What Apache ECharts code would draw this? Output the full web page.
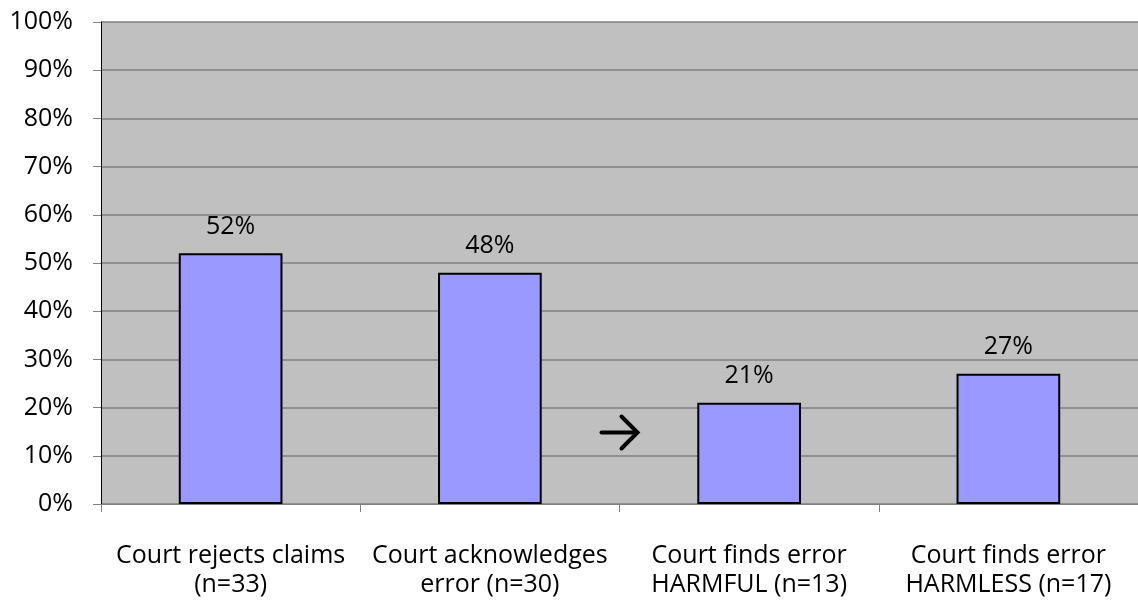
<!DOCTYPE html>
<html lang="en">
<head>
    <meta charset="UTF-8">
    <title>Court outcomes</title>
    <style>
        html, body { margin: 0; padding: 0; background: #fff; }
        #chart { width: 1138px; height: 601px; }
    </style>
</head>
<body>
<div id="chart"></div>
<script src="https://cdn.jsdelivr.net/npm/echarts@6/dist/echarts.min.js"></script>
<script>
    // 数据
    let categories = ['Court rejects claims\n(n=33)', 'Court acknowledges\nerror (n=30)', 'Court finds error\nHARMFUL (n=13)', 'Court finds error\nHARMLESS (n=17)'];
    let values = [52, 48, 21, 27];
    let yTicks = [0, 10, 20, 30, 40, 50, 60, 70, 80, 90, 100];

    let font = '"Open Sans", sans-serif';
    let myChart = echarts.init(document.getElementById('chart'));
    let option = {
        animation: false,
        grid: {
            left: 101, right: 0, top: 22, bottom: 97,
            show: true, backgroundColor: '#c0c0c0', borderWidth: 0
        },
        xAxis: {
            type: 'category',
            data: categories,
            axisLine: {lineStyle: {color: '#808080', width: 1}},
            axisTick: {show: true, length: 8, lineStyle: {color: '#808080'}},
            axisLabel: {color: '#000', fontSize: 25, fontFamily: font, lineHeight: 29, margin: 37, interval: 0}
        },
        yAxis: {
            type: 'value',
            min: yTicks[0],
            max: yTicks[yTicks.length - 1],
            interval: 10,
            axisLine: {show: true, lineStyle: {color: '#000', width: 1}},
            axisTick: {show: true, length: 8, lineStyle: {color: '#808080'}},
            axisLabel: {color: '#000', fontSize: 25, fontFamily: font, margin: 28, formatter: '{value}%'},
            splitLine: {lineStyle: {color: '#808080', width: 1.5}}
        },
        series: [{
            type: 'bar',
            data: values,
            barWidth: '40%',
            itemStyle: {color: '#9999ff', borderColor: '#000', borderWidth: 2},
            label: {
                show: true, position: 'top', distance: 14,
                color: '#000', fontSize: 25, fontFamily: font,
                formatter: '{c}%'
            }
        }],
        // 箭头
        graphic: [{
            type: 'group',
            left: 599,
            top: 414,
            children: [{
                type: 'polyline',
                shape: {points: [[0, 17], [35, 17]]},
                style: {stroke: '#000', lineWidth: 4, lineCap: 'round'}
            }, {
                type: 'polyline',
                shape: {points: [[20, 1], [36, 17], [20, 33]]},
                style: {stroke: '#000', lineWidth: 4, lineCap: 'round', lineJoin: 'miter', fill: null}
            }]
        }]
    };
    myChart.setOption(option);
</script>
</body>
</html>
